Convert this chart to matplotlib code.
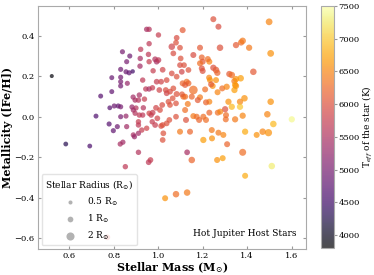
import numpy as np
import matplotlib
matplotlib.use("Agg")
import matplotlib.pyplot as plt

plt.rcParams["font.family"] = "DejaVu Serif"
plt.rcParams["mathtext.fontset"] = "dejavuserif"

# stellar mass (Msun), metallicity [Fe/H], Teff (K), radius (Rsun)
mass = [0.521, 0.584, 0.692, 0.741, 0.720, 0.782, 0.791, 0.791, 0.831, 0.839,
        0.831, 0.831, 0.831, 0.855, 0.872, 0.858, 0.885, 0.869, 0.861, 0.887,
        0.896, 0.882, 0.900, 0.802, 0.820, 0.831, 0.831, 0.855, 0.888, 0.896,
        0.921, 0.919, 0.918, 0.930, 0.915, 0.911, 0.948, 0.959, 0.959, 1.001,
        0.956, 0.959, 0.986, 0.993, 1.001, 0.977, 1.020, 0.993, 1.013, 0.944,
        0.959, 0.974, 1.005, 1.034, 1.038, 0.938, 0.933, 0.959, 0.975, 0.915,
        0.990, 1.008, 0.996, 0.986, 1.013, 1.023, 0.948, 0.973, 0.926, 0.816,
        0.798, 0.779, 0.858, 0.888, 0.911, 0.911, 0.911, 1.038, 1.061, 1.083,
        1.080, 1.068, 1.098, 1.110, 1.101, 1.098, 1.106, 1.061, 1.083, 1.068,
        1.053, 1.083, 1.110, 1.128, 1.121, 1.133, 1.080, 1.053, 1.080, 1.098,
        1.018, 1.046, 1.020, 1.038, 1.065, 1.050, 0.930, 1.248, 1.271, 1.499,
        1.188, 1.278, 1.350, 1.373, 1.380, 1.409, 1.506, 1.158, 1.196, 1.200,
        1.188, 1.230, 1.116, 1.136, 1.196, 1.200, 1.248, 1.260, 1.266, 1.229,
        1.233, 1.320, 1.331, 1.343, 1.350, 1.371, 1.428, 1.136, 1.121, 1.158,
        1.211, 1.245, 1.288, 1.308, 1.346, 1.113, 1.151, 1.188, 1.230, 1.316,
        1.331, 1.368, 1.388, 1.368, 1.506, 1.121, 1.158, 1.173, 1.203, 1.230,
        1.268, 1.301, 1.304, 1.346, 1.491, 1.518, 1.601, 1.391, 1.443, 1.470,
        1.496, 1.241, 1.271, 1.293, 1.203, 1.143, 1.125, 1.178, 1.215, 1.184,
        1.215, 1.107, 0.968, 1.238, 1.260, 1.223, 1.267, 1.350, 1.343, 1.279,
        1.305, 1.380, 0.829, 0.841, 0.852, 0.771, 0.893, 0.911, 0.965, 0.957,
        1.020, 1.130, 1.151, 1.242, 1.265, 1.031, 1.080, 1.130, 1.310, 1.290,
        1.380, 1.511, 1.391]

feh = [0.201, -0.135, -0.145, 0.102, 0.003, 0.044, 0.124, 0.193, 0.234, 0.321,
       0.195, 0.173, 0.152, 0.222, 0.300, 0.272, 0.224, 0.217, 0.165, 0.097,
       0.082, 0.048, 0.043, 0.053, 0.053, 0.049, 0.000, 0.003, 0.033, 0.017,
       0.333, 0.288, 0.250, 0.181, 0.107, 0.082, 0.432, 0.432, 0.361, 0.404,
       0.308, 0.272, 0.284, 0.272, 0.280, 0.227, 0.232, 0.173, 0.173, 0.137,
       0.137, 0.143, 0.132, 0.132, 0.116, 0.087, 0.044, 0.017, 0.020, 0.008,
       0.044, 0.033, -0.008, -0.041, -0.046, -0.082, -0.057, -0.025, -0.066, -0.049,
       -0.069, -0.036, -0.049, -0.090, -0.082, -0.025, -0.041, 0.181, 0.346, 0.390,
       0.366, 0.313, 0.341, 0.428, 0.288, 0.255, 0.222, 0.214, 0.198, 0.140,
       0.124, 0.112, 0.165, 0.173, 0.099, 0.063, 0.066, 0.058, 0.000, -0.074,
       0.058, 0.074, -0.041, -0.033, 0.091, -0.016, 0.008, 0.482, 0.445, 0.469,
       0.341, 0.341, 0.354, 0.367, 0.375, 0.341, 0.313, 0.305, 0.293, 0.272,
       0.264, 0.272, 0.255, 0.231, 0.239, 0.226, 0.242, 0.231, 0.217, 0.193,
       0.181, 0.211, 0.206, 0.176, 0.186, 0.190, 0.222, 0.165, 0.157, 0.132,
       0.135, 0.152, 0.140, 0.148, 0.157, 0.099, 0.099, 0.096, 0.074, 0.074,
       0.049, 0.074, 0.091, 0.049, 0.074, 0.033, 0.003, 0.000, 0.000, 0.020,
       0.020, 0.037, -0.013, -0.013, 0.012, -0.036, -0.013, -0.074, -0.090, -0.074,
       -0.079, -0.066, -0.079, -0.090, -0.115, -0.074, -0.016, 0.082, 0.071, -0.016,
       -0.016, 0.111, 0.008, 0.160, 0.181, 0.285, 0.121, 0.152, 0.132, 0.025,
       0.008, 0.005, -0.135, -0.126, -0.247, -0.596, -0.099, -0.176, -0.214, -0.225,
       -0.115, -0.176, -0.214, -0.107, -0.214, -0.403, -0.383, -0.375, -0.136, -0.205,
       -0.176, -0.244, -0.292]

teff = [3850, 4300, 4600, 4700, 4650, 4700, 4800, 4850, 4900, 5000,
        4950, 5000, 4950, 4900, 4900, 5000, 4500, 4800, 5300, 5400,
        5450, 5300, 5550, 4900, 4800, 5000, 5000, 5300, 5400, 5550,
        5650, 5450, 5400, 5650, 5450, 5550, 5450, 5550, 5650, 5750,
        5650, 5750, 5550, 5450, 5650, 5750, 5850, 5750, 5850, 5650,
        5450, 5750, 5850, 5950, 5850, 5750, 5550, 5850, 5750, 5650,
        5850, 5950, 5850, 5750, 5950, 6000, 5850, 5750, 5750, 4900,
        4800, 4700, 5400, 5450, 5400, 5750, 5650, 5950, 5850, 5950,
        6000, 5950, 6000, 6100, 6000, 5950, 5850, 5950, 6000, 6000,
        5950, 6000, 6200, 6300, 6300, 6400, 6000, 6000, 6000, 6400,
        5950, 6000, 6000, 6000, 6000, 6000, 5650, 6000, 5950, 6500,
        6100, 6000, 6100, 6300, 6400, 6400, 6600, 5950, 6200, 6100,
        6300, 6500, 6000, 6000, 6000, 6000, 6000, 6100, 6200, 6500,
        6600, 6100, 6300, 6400, 6600, 6700, 6100, 6200, 6100, 6300,
        6300, 6600, 6300, 6500, 6700, 6300, 6200, 6400, 6500, 6600,
        6900, 6500, 6600, 7000, 6600, 6300, 6400, 6300, 6300, 6200,
        6300, 6000, 6300, 6400, 6500, 6900, 7400, 6800, 6600, 6500,
        6600, 6400, 6400, 6500, 6700, 6200, 6000, 6100, 6200, 6200,
        6300, 6100, 5750, 6100, 6600, 6300, 6500, 6600, 6700, 6500,
        6300, 6500, 5450, 5400, 5650, 5950, 5300, 5550, 5750, 5650,
        6000, 5450, 6200, 6600, 6600, 6600, 6300, 6400, 6200, 6700,
        6300, 7300, 6800]

radius = [0.5, 0.7, 0.7, 0.75, 0.75, 0.7, 0.75, 0.75, 0.8, 0.8,
          0.8, 0.8, 0.8, 0.8, 0.8, 0.8, 0.6, 0.8, 0.8, 0.85,
          0.85, 0.85, 0.85, 0.8, 0.8, 0.8, 0.8, 0.8, 0.85, 0.85,
          0.9, 0.9, 0.9, 0.9, 0.9, 0.9, 0.9, 0.9, 0.9, 0.9,
          0.9, 0.9, 1.0, 1.0, 1.0, 0.9, 1.0, 1.0, 1.0, 0.9,
          0.9, 0.9, 1.0, 1.0, 1.0, 0.9, 0.9, 0.9, 1.0, 0.9,
          1.0, 1.0, 1.0, 1.0, 1.0, 1.0, 0.9, 0.9, 0.9, 0.8,
          0.8, 0.8, 0.85, 0.85, 0.85, 0.9, 0.9, 1.0, 1.3, 1.0,
          1.0, 1.0, 1.0, 1.1, 1.0, 1.0, 1.0, 1.0, 1.0, 1.0,
          1.0, 1.1, 1.1, 1.1, 1.1, 1.1, 1.0, 1.0, 1.0, 1.1,
          1.0, 1.0, 1.0, 1.0, 1.0, 1.0, 0.9, 1.1, 1.1, 1.4,
          1.1, 1.3, 1.2, 1.2, 1.3, 1.2, 1.4, 1.1, 1.1, 1.1,
          1.1, 1.1, 1.0, 1.0, 1.1, 1.1, 1.2, 1.3, 1.2, 1.1,
          1.1, 1.2, 1.3, 1.2, 1.2, 1.3, 1.3, 1.1, 1.1, 2.3,
          1.1, 1.1, 1.1, 1.2, 1.2, 1.1, 1.1, 1.1, 1.1, 1.2,
          1.2, 1.2, 1.3, 1.2, 1.3, 1.1, 1.1, 1.1, 1.1, 1.1,
          1.1, 1.2, 1.1, 1.2, 1.3, 1.3, 1.2, 1.2, 1.1, 1.3,
          1.6, 1.1, 1.1, 1.1, 1.2, 1.1, 1.1, 1.1, 1.1, 1.1,
          1.1, 1.0, 0.9, 1.1, 1.1, 1.1, 1.1, 1.2, 1.2, 1.1,
          1.1, 1.2, 0.85, 0.85, 0.9, 1.0, 0.85, 0.9, 1.0, 1.0,
          1.0, 1.0, 1.3, 1.1, 1.1, 1.1, 1.3, 1.3, 1.1, 1.1,
          1.5, 1.3, 1.1]

legend_radii = [0.5, 1, 2]
legend_labels = [r"0.5 R$_{\odot}$", r"1 R$_{\odot}$", r"2 R$_{\odot}$"]

size_scale = 17

fig = plt.figure(figsize=(3.74, 2.75), dpi=100)
ax = fig.add_axes([0.1016, 0.0945, 0.7166, 0.8835])

sc = ax.scatter(mass, feh, c=teff, s=np.array(radius) * size_scale,
                cmap="inferno", vmin=3800, vmax=7500, alpha=0.7, linewidths=0)

ax.set_xlim(0.459, 1.665)
ax.set_ylim(-0.654, 0.547)
ax.set_xticks([0.6, 0.8, 1.0, 1.2, 1.4, 1.6])
ax.set_yticks([-0.6, -0.4, -0.2, 0.0, 0.2, 0.4])
ax.tick_params(direction="in", top=True, right=True, labelsize=6,
               length=2.5, color="#999999", pad=2.5)
for sp in ax.spines.values():
    sp.set_color("#aaaaaa")

ax.set_xlabel(r"Stellar Mass (M$_{\odot}$)", fontsize=8, fontweight="bold", labelpad=0)
ax.set_ylabel("Metallicity ([Fe/H])", fontsize=8, fontweight="bold", labelpad=1)

for r, lab in zip(legend_radii, legend_labels):
    ax.scatter([], [], s=r * size_scale, color="gray", alpha=0.6, linewidths=0, label=lab)
leg = ax.legend(loc="lower left", title=r"Stellar Radius (R$_{\odot}$)", fontsize=6.5,
                title_fontsize=6.5, frameon=True, borderaxespad=0.4)
leg.get_frame().set_edgecolor("#dddddd")

ax.text(0.965, 0.045, "Hot Jupiter Host Stars", transform=ax.transAxes,
        ha="right", va="bottom", fontsize=6.5)

cax = fig.add_axes([0.858, 0.098, 0.034, 0.88])
cb = fig.colorbar(sc, cax=cax)
cb.set_ticks([4000, 4500, 5000, 5500, 6000, 6500, 7000, 7500])
cb.ax.tick_params(labelsize=6, length=2, color="#999999", pad=1.5)
cb.outline.set_edgecolor("#aaaaaa")
cb.set_label(r"T$_{eff}$ of the star (K)", fontsize=6.5, labelpad=0.5)

fig.savefig("out.png", dpi=100)
